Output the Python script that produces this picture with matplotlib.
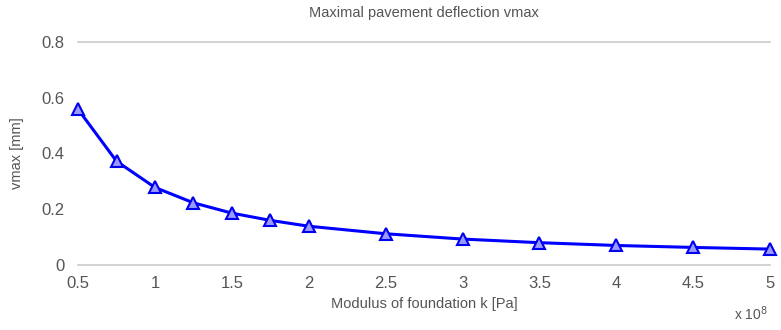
import matplotlib.pyplot as plt

plt.rcParams['font.family'] = ['Liberation Sans', 'DejaVu Sans']

# modulus of foundation k (x 10^8 Pa) and maximal deflection (mm)
k_vals = [0.5, 0.75, 1.0, 1.25, 1.5, 1.75, 2.0, 2.5, 3.0, 3.5, 4.0, 4.5, 5.0]
vmax = [0.558, 0.372, 0.278, 0.223, 0.186, 0.160, 0.139, 0.112, 0.093, 0.080, 0.070, 0.063, 0.057]
xticks = [0.5, 1, 1.5, 2, 2.5, 3, 3.5, 4, 4.5, 5]
xticklabels = ['0.5', '1', '1.5', '2', '2.5', '3', '3.5', '4', '4.5', '5']
yticks = [0, 0.2, 0.4, 0.6, 0.8]
yticklabels = ['0', '0.2', '0.4', '0.6', '0.8']

txt = '#555555'

fig = plt.figure(figsize=(7.81, 3.30), dpi=100)
ax = fig.add_axes([0.100, 0.197, 0.886, 0.676])

ax.plot(k_vals, vmax, color='#0000ff', linewidth=2.2, marker='^', markersize=9,
        markerfacecolor='#9999ff', markeredgecolor='#0000ee', markeredgewidth=1.5,
        clip_on=False, zorder=5)

ax.set_xlim(0.5, 5)
ax.set_ylim(0, 0.8)
ax.set_xticks(xticks)
ax.set_xticklabels(xticklabels)
ax.set_yticks(yticks)
ax.set_yticklabels(yticklabels)
ax.tick_params(length=0, labelsize=12, colors=txt, pad=10)
ax.tick_params(axis='x', pad=8)

for s in ['left', 'right']:
    ax.spines[s].set_visible(False)
for s in ['top', 'bottom']:
    ax.spines[s].set_color('#cccccc')
    ax.spines[s].set_linewidth(1.2)

ax.set_title('Maximal pavement deflection vmax', fontsize=10.5, color=txt, pad=18)
ax.set_xlabel('Modulus of foundation k [Pa]', fontsize=10.5, color=txt, labelpad=4)
ax.set_ylabel('vmax [mm]', fontsize=10.5, color=txt, labelpad=12)
fig.text(0.94, 0.03, r'x 10$^{8}$', fontsize=10, color=txt)

fig.savefig('out.png', dpi=100)
